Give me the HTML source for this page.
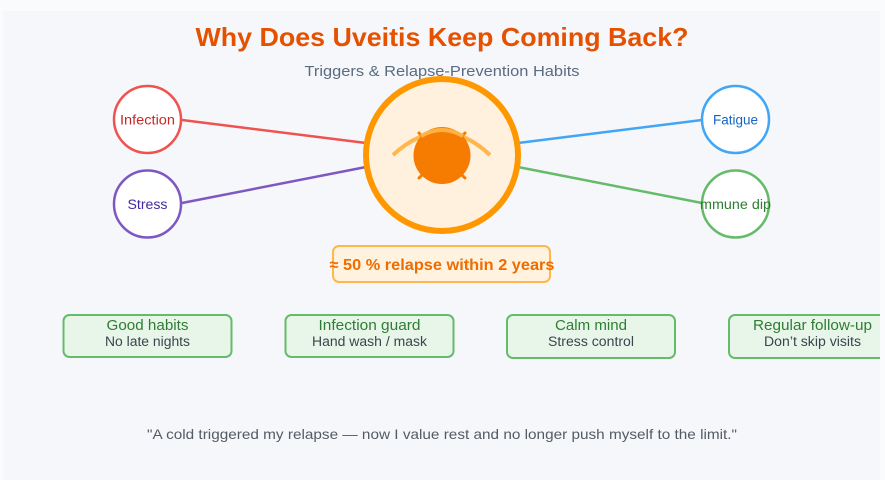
<!DOCTYPE html>
<html>
<head>
<meta charset="utf-8">
<style>
  html, body { margin: 0; padding: 0; background: #fafbfc; }
  body { width: 885px; height: 480px; overflow: hidden; }
  svg { display: block; font-family: "Liberation Sans", "DejaVu Sans", sans-serif; }
</style>
</head>
<body>
<svg width="885" height="480" viewBox="0 0 885 480" xmlns="http://www.w3.org/2000/svg">
  <defs>
    <clipPath id="panel"><rect x="3" y="11" width="877" height="469"/></clipPath>
  </defs>
  <rect x="0" y="0" width="885" height="480" fill="#fafbfc"/>
  <g clip-path="url(#panel)">
    <rect x="3" y="11" width="877" height="469" fill="#f5f7fb"/>

    <!-- Title -->
    <text x="442" y="46" text-anchor="middle" font-size="26" font-weight="bold" fill="#e65100" textLength="493" lengthAdjust="spacingAndGlyphs">Why Does Uveitis Keep Coming Back?</text>
    <text x="442" y="76" text-anchor="middle" font-size="15" fill="#5b6b80" textLength="275" lengthAdjust="spacingAndGlyphs">Triggers &amp; Relapse-Prevention Habits</text>

    <!-- Connector lines -->
    <line x1="182" y1="120" x2="366" y2="143" stroke="#ef5350" stroke-width="2.5"/>
    <line x1="182" y1="203" x2="366" y2="167" stroke="#7e57c2" stroke-width="2.5"/>
    <line x1="518" y1="143" x2="702" y2="120" stroke="#42a5f5" stroke-width="2.5"/>
    <line x1="518" y1="167" x2="702" y2="203" stroke="#66bb6a" stroke-width="2.5"/>

    <!-- Central eye -->
    <circle cx="442" cy="155" r="76" fill="#fff1de" stroke="#ff9800" stroke-width="6"/>
    <path d="M393 155 Q442 110 490 155" fill="none" stroke="#ffb74d" stroke-width="4"/>
    <line x1="419" y1="133" x2="425" y2="139" stroke="#f57c00" stroke-width="3" stroke-linecap="round"/>
    <line x1="465" y1="133" x2="459" y2="139" stroke="#f57c00" stroke-width="3" stroke-linecap="round"/>
    <line x1="419" y1="178" x2="425" y2="172" stroke="#f57c00" stroke-width="3" stroke-linecap="round"/>
    <line x1="465" y1="178" x2="459" y2="172" stroke="#f57c00" stroke-width="3" stroke-linecap="round"/>
    <circle cx="442" cy="155.5" r="28.5" fill="#f57c00"/>
    <path d="M421 136 Q442 124 463 136" fill="none" stroke="#ffb74d" stroke-width="4" opacity="0.9"/>

    <!-- Trigger nodes -->
    <circle cx="147.5" cy="119.5" r="33.5" fill="#ffffff" stroke="#ef5350" stroke-width="2.5"/>
    <text x="147.5" y="124.5" text-anchor="middle" font-size="13.5" fill="#c62828" textLength="55" lengthAdjust="spacingAndGlyphs">Infection</text>

    <circle cx="147.5" cy="204" r="33.5" fill="#ffffff" stroke="#7e57c2" stroke-width="2.5"/>
    <text x="147.5" y="209" text-anchor="middle" font-size="13.5" fill="#4527a0" textLength="40" lengthAdjust="spacingAndGlyphs">Stress</text>

    <circle cx="735.5" cy="119.5" r="33.5" fill="#ffffff" stroke="#42a5f5" stroke-width="2.5"/>
    <text x="735.5" y="124.5" text-anchor="middle" font-size="13.5" fill="#1565c0" textLength="45" lengthAdjust="spacingAndGlyphs">Fatigue</text>

    <circle cx="735.5" cy="204" r="33.5" fill="#ffffff" stroke="#66bb6a" stroke-width="2.5"/>
    <text x="735.5" y="209" text-anchor="middle" font-size="13.5" fill="#2e7d32" textLength="71" lengthAdjust="spacingAndGlyphs">mmune dip</text>

    <!-- Badge -->
    <rect x="333" y="246" width="217" height="36" rx="6" fill="#fff3e0" stroke="#ffb74d" stroke-width="2"/>
    <text x="442" y="270" text-anchor="middle" font-size="16" font-weight="bold" fill="#ef6c00" textLength="225" lengthAdjust="spacingAndGlyphs">≈ 50 % relapse within 2 years</text>

    <!-- Habit boxes -->
    <rect x="63.5" y="315" width="168" height="42" rx="6" fill="#e8f5e9" stroke="#66bb6a" stroke-width="2"/>
    <text x="147.5" y="330" text-anchor="middle" font-size="14.5" fill="#2e7d32" textLength="82" lengthAdjust="spacingAndGlyphs">Good habits</text>
    <text x="147.5" y="346" text-anchor="middle" font-size="13.5" fill="#37474f" textLength="85" lengthAdjust="spacingAndGlyphs">No late nights</text>

    <rect x="285.5" y="315" width="168" height="42" rx="6" fill="#e8f5e9" stroke="#66bb6a" stroke-width="2"/>
    <text x="369.5" y="330" text-anchor="middle" font-size="14.5" fill="#2e7d32" textLength="102" lengthAdjust="spacingAndGlyphs">Infection guard</text>
    <text x="369.5" y="346" text-anchor="middle" font-size="13.5" fill="#37474f" textLength="115" lengthAdjust="spacingAndGlyphs">Hand wash / mask</text>

    <rect x="507" y="315" width="168" height="43" rx="6" fill="#e8f5e9" stroke="#66bb6a" stroke-width="2"/>
    <text x="591" y="330" text-anchor="middle" font-size="14.5" fill="#2e7d32" textLength="72" lengthAdjust="spacingAndGlyphs">Calm mind</text>
    <text x="591" y="346" text-anchor="middle" font-size="13.5" fill="#37474f" textLength="86" lengthAdjust="spacingAndGlyphs">Stress control</text>

    <rect x="729" y="315" width="168" height="43" rx="6" fill="#e8f5e9" stroke="#66bb6a" stroke-width="2"/>
    <text x="812.5" y="330" text-anchor="middle" font-size="14.5" fill="#2e7d32" textLength="119" lengthAdjust="spacingAndGlyphs">Regular follow-up</text>
    <text x="812.5" y="346" text-anchor="middle" font-size="13.5" fill="#37474f" textLength="97" lengthAdjust="spacingAndGlyphs">Don’t skip visits</text>

    <!-- Quote -->
    <text x="442" y="439" text-anchor="middle" font-size="14" fill="#555b63" textLength="590" lengthAdjust="spacingAndGlyphs">"A cold triggered my relapse — now I value rest and no longer push myself to the limit."</text>
  </g>
</svg>
</body>
</html>
